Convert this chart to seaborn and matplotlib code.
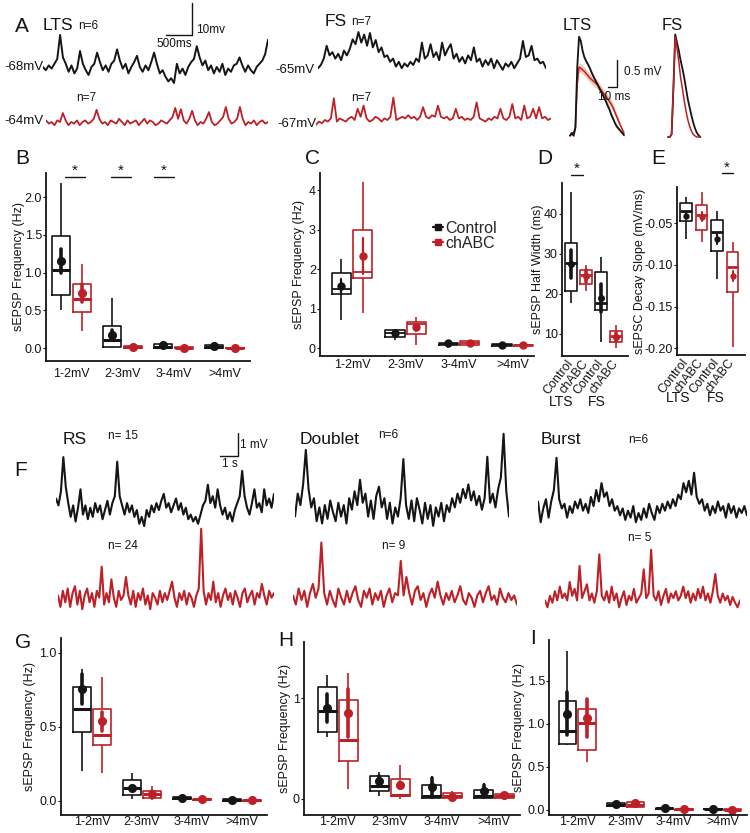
import numpy as np
import pandas as pd
import matplotlib.pyplot as plt
import seaborn as sns
from matplotlib.lines import Line2D
from matplotlib.ticker import FormatStrFormatter

# ---------------- values ----------------
bins = ["1-2mV", "2-3mV", "3-4mV", ">4mV"]
groups = ["Control", "chABC"]

# boxes are [min, q1, median, q3, max]; mean +/- se drawn on top
b_ctrl_box = [[0.51, 0.71, 1.03, 1.49, 2.19], [0.0, 0.01, 0.11, 0.29, 0.66],
              [0.0, 0.0, 0.01, 0.05, 0.07], [0.0, 0.0, 0.01, 0.04, 0.06]]
b_chabc_box = [[0.23, 0.48, 0.65, 0.85, 1.12], [0.0, 0.0, 0.015, 0.03, 0.06],
               [0.0, 0.0, 0.005, 0.01, 0.02], [0.0, 0.0, 0.0, 0.005, 0.02]]
b_ctrl_mean, b_ctrl_se = [1.16, 0.18, 0.04, 0.03], [0.16, 0.06, 0.02, 0.02]
b_chabc_mean, b_chabc_se = [0.73, 0.02, 0.005, 0.004], [0.12, 0.01, 0.003, 0.003]

c_ctrl_box = [[0.72, 1.37, 1.5, 1.9, 2.25], [0.22, 0.28, 0.38, 0.46, 0.5],
              [0.02, 0.1, 0.12, 0.14, 0.2], [0.02, 0.06, 0.09, 0.12, 0.15]]
c_chabc_box = [[0.9, 1.77, 1.92, 3.0, 4.2], [0.1, 0.37, 0.62, 0.67, 0.8],
               [0.07, 0.1, 0.15, 0.2, 0.22], [0.06, 0.07, 0.08, 0.09, 0.1]]
c_ctrl_mean, c_ctrl_se = [1.57, 0.4, 0.13, 0.1], [0.18, 0.05, 0.03, 0.02]
c_chabc_mean, c_chabc_se = [2.33, 0.53, 0.15, 0.08], [0.45, 0.1, 0.03, 0.01]

de_cats = ["LTS Control", "LTS chABC", "FS Control", "FS chABC"]
de_groups = ["Control", "chABC", "Control", "chABC"]
de_ticks = ["Control", "chABC", "Control", "chABC"]
d_box = [[17.7, 20.8, 27.7, 32.7, 45.6], [20.8, 22.5, 24.75, 26.0, 27.25],
         [8.1, 16.0, 17.7, 25.6, 29.3], [6.4, 8.1, 9.5, 10.8, 12.25]]
d_mean, d_se = [27.5, 24.5, 19.0, 9.3], [3.6, 1.5, 3.6, 1.0]
e_box = [[-0.069, -0.047, -0.035, -0.026, -0.019], [-0.073, -0.058, -0.040, -0.028, -0.013],
         [-0.117, -0.083, -0.060, -0.046, -0.035], [-0.199, -0.132, -0.103, -0.085, -0.072]]
e_mean, e_se = [-0.041, -0.042, -0.069, -0.113], [0.004, 0.005, 0.006, 0.006]

g_ctrl_box = [[0.20, 0.463, 0.624, 0.772, 0.888], [0.016, 0.038, 0.09, 0.143, 0.19],
              [0.005, 0.01, 0.02, 0.025, 0.03], [0.0, 0.002, 0.005, 0.01, 0.012]]
g_chabc_box = [[0.19, 0.378, 0.445, 0.62, 0.839], [0.007, 0.02, 0.05, 0.065, 0.10],
               [0.0, 0.005, 0.01, 0.013, 0.015], [0.0, 0.001, 0.003, 0.005, 0.008]]
g_ctrl_mean, g_ctrl_se = [0.754, 0.09, 0.02, 0.006], [0.10, 0.01, 0.005, 0.003]
g_chabc_mean, g_chabc_se = [0.537, 0.05, 0.01, 0.003], [0.065, 0.02, 0.003, 0.002]

h_ctrl_box = [[0.61, 0.663, 0.875, 1.11, 1.23], [0.026, 0.076, 0.125, 0.224, 0.27],
              [0.0, 0.01, 0.026, 0.135, 0.224], [0.0, 0.01, 0.026, 0.086, 0.16]]
h_chabc_box = [[0.099, 0.373, 0.587, 0.977, 1.25], [0.0, 0.026, 0.043, 0.198, 0.333],
               [0.0, 0.007, 0.026, 0.06, 0.076], [0.0, 0.007, 0.03, 0.05, 0.066]]
h_ctrl_mean, h_ctrl_se = [0.90, 0.18, 0.12, 0.083], [0.14, 0.05, 0.09, 0.05]
h_chabc_mean, h_chabc_se = [0.85, 0.14, 0.02, 0.04], [0.24, 0.03, 0.01, 0.01]

i_ctrl_box = [[0.76, 0.767, 0.922, 1.27, 1.853], [0.031, 0.039, 0.058, 0.078, 0.108],
              [0.01, 0.015, 0.02, 0.025, 0.03], [0.003, 0.006, 0.01, 0.013, 0.016]]
i_chabc_box = [[0.562, 0.698, 1.008, 1.17, 1.287], [0.031, 0.031, 0.06, 0.097, 0.116],
               [0.0, 0.002, 0.005, 0.008, 0.01], [0.0, 0.002, 0.004, 0.006, 0.008]]
i_ctrl_mean, i_ctrl_se = [1.116, 0.065, 0.02, 0.01], [0.25, 0.01, 0.004, 0.003]
i_chabc_mean, i_chabc_se = [1.066, 0.08, 0.005, 0.004], [0.22, 0.015, 0.002, 0.002]

# A: example recordings, mV relative to resting level
lts_ctrl_trace = [0, -1, 0.5, -0.5, 1, 2.5, 10, 3, 1, -1.5, 0.5, -2, -0.5, 5, 1, -1, -2.5, 0, 1,
                  4.5, 1.5, -1, 0.5, -1.5, 1, 2, 5.5, 2, -0.5, 1, -2, 0, 1.5, 3.5, 0, -1.5, 0.5,
                  -1, 1.5, 4.5, 1, -2, -1, -3, -4.5, -3.5, -5, 1, -2, -0.5, -2.5, 0, 1.5, 2.5,
                  6.5, 3, 0.5, 2, -1, 0.5, -2, 0, -1.5, 1, -2.5, -0.5, -1.5, 0.5, 1, 3, 0.5,
                  -1.5, 0.5, -1, -2, 0, 1, 2, 4, 8.5]
lts_chabc_trace = [0.5, -0.5, 0, -1, 0.5, 0, 2.8, 0.5, -1, 0, -0.5, 0.5, -1, 0, 0.5, -0.5, 0, 1,
                   3.8, 1, -0.5, 0, -1, 0.5, 0, -0.5, 1, 0, -1, 0.5, -0.5, 0, 0.5, -1, 0, 1,
                   -0.5, 0.5, 0, -1, -0.5, 0.5, 0, -0.5, 0.5, 1.5, 4.4, 1, 4, 0.5, -0.5, 1, 3.5,
                   0.5, -1, 0, -0.5, 1, 3.1, 0, -1, -0.5, 0.5, 1.5, 4.7, 1, -0.5, 0, 1, 4.7, 1,
                   -1, 0, -0.5, 0.5, -1, 0, 0.5, -0.5, 0]
fs_ctrl_trace = [-1, 0, 2, 6, 3, 4, 2, 3.5, 1.5, 4.5, 3, 5, 8, 6.5, 10.3, 7, 9.5, 6, 10, 5.5, 7.8,
                 4, 5.5, 2.5, 3, 1, 2, -0.5, 1, -1, 0.5, -0.5, 1, 0, 2, 1, 7, 2, 3, 6.5, 2.5, 4,
                 1.5, 7, 3, 5, 6.5, 2, 3.5, 1, 2.5, 0.5, 3, 1.5, 5.5, 1, 2, -0.5, 1.5, 0, 2, -1,
                 1.5, 0, -1.5, 0.5, -0.5, 1, -1, 0.5, 2, 7.5, 2.5, 3, 6, 1.5, 2, 0.5, 1, -1]
fs_chabc_trace = [-1.5, -0.5, -1, 0, -0.5, 0.5, 6.8, -0.5, 0.5, 0, -0.5, 0.5, 1, 0, 3.5, 1, 4.5,
                  0.5, -0.5, 0, 1, 0.5, -0.5, 0.5, 0, 1, 7, 0, 0.5, 1, 0.5, 1.5, 0.5, 1, 0, 1, 4,
                  1, 0.5, 1.5, 1, 4.5, 1, 0.5, 1, 0, 0.5, 3.5, 0.5, 1, 0, 0.5, 0, 1, 5.5, 0.5, 0,
                  -0.5, 0.5, 0, 1, 0.5, 3.5, 0.5, 0, 1, 5, 0.5, 1, 0, 4.5, 0.5, 1, 3.5, 0.5, 4,
                  0.5, 1, 0, 0.5]

# A right: averaged sEPSPs (mV) every 2 ms
lts_wave_t = np.arange(0, 61, 2)
lts_wave_ctrl = [-0.05, 0.0, -0.05, 0.1, 1.2, 1.78, 1.7, 1.52, 1.4, 1.33, 1.27, 1.2, 1.12, 1.05,
                 0.98, 0.92, 0.85, 0.78, 0.72, 0.65, 0.58, 0.5, 0.43, 0.33, 0.26, 0.18, 0.12,
                 0.08, 0.04, 0.0, -0.04]
lts_wave_ctrl_se = [0.02, 0.02, 0.02, 0.03, 0.05, 0.06, 0.05, 0.05, 0.04, 0.04, 0.04, 0.04, 0.04,
                    0.04, 0.04, 0.04, 0.04, 0.04, 0.04, 0.04, 0.04, 0.04, 0.04, 0.04, 0.04, 0.04,
                    0.04, 0.03, 0.03, 0.03, 0.03]
lts_wave_chabc = [-0.05, 0.0, 0.0, 0.1, 0.9, 1.22, 1.2, 1.17, 1.14, 1.1, 1.06, 1.02, 0.99, 0.96,
                  0.93, 0.9, 0.86, 0.81, 0.76, 0.72, 0.68, 0.63, 0.58, 0.53, 0.46, 0.38, 0.3,
                  0.22, 0.14, 0.07, 0.0]
lts_wave_chabc_se = [0.02, 0.02, 0.02, 0.03, 0.06, 0.08, 0.08, 0.08, 0.08, 0.08, 0.08, 0.08,
                     0.08, 0.08, 0.08, 0.08, 0.08, 0.08, 0.08, 0.08, 0.08, 0.08, 0.08, 0.08,
                     0.07, 0.07, 0.06, 0.06, 0.05, 0.04, 0.03]
fs_wave_t = np.arange(0, 37, 2)
fs_wave_ctrl = [0.0, 0.0, 0.05, 0.9, 1.9, 1.75, 1.6, 1.42, 1.27, 1.1, 0.9, 0.7, 0.55, 0.4, 0.27,
                0.16, 0.08, 0.03, 0.0]
fs_wave_chabc = [0.0, 0.0, 0.05, 0.9, 1.85, 1.65, 1.4, 1.1, 0.9, 0.68, 0.48, 0.32, 0.2, 0.11,
                 0.05, 0.02, 0.0, 0.0, 0.0]

# F: example recordings (mV)
rs_ctrl_trace = [0.5, 0.2, 0.8, 2.3, 1.0, 0.3, -0.3, 0.2, -0.5, 0.1, 0.9, -0.2, 0.2, -0.4, 0.1,
                 -0.3, 0.3, -0.1, 0.2, -0.4, 0.0, 0.4, -0.2, 0.3, 0.6, 2.1, 0.6, 0.2, -0.2, 0.3,
                 -0.1, 0.2, -0.3, 0.0, -0.6, -0.3, -0.7, 0.0, -0.3, 0.2, -0.1, 0.3, 0.0, 0.4,
                 0.7, 0.1, 0.3, -0.1, 0.2, 0.5, 0.0, 0.3, -0.2, 0.1, -0.4, -0.2, -0.5, -0.3,
                 -0.6, -0.2, 0.2, 0.4, 1.1, 0.3, 0.6, 0.1, 0.9, 0.2, -0.2, 0.1, -0.4, -0.1, -0.5,
                 0.0, 0.3, 0.6, 1.7, 0.6, 0.1, -0.2, 0.3, 0.9, 0.1, 0.3, -0.1, 0.9, 0.2, 0.5,
                 0.1, 0.7]
rs_chabc_trace = [0.2, -0.3, 0.4, -0.1, 0.5, -0.3, 0.3, 0.6, -0.2, 0.4, -0.4, 0.2, 0.5, -0.1,
                  0.3, -0.3, 0.4, 0.1, 1.45, -0.2, 0.3, -0.1, 0.9, 0.1, -0.3, 0.4, 0.0, 0.2, 1.0,
                  0.2, -0.2, 0.4, -0.3, 0.3, 0.0, 0.5, -0.2, 0.2, -0.4, 0.3, 0.1, -0.2, 0.4,
                  -0.1, 0.3, 0.0, 0.4, 0.8, 0.1, -0.3, 0.3, 0.0, 0.4, -0.2, 0.3, 0.1, -0.3, 0.2,
                  0.5, 3.1, 0.4, -0.2, 0.3, 0.0, 0.8, -0.1, 0.3, -0.3, 0.2, 0.5, 0.0, 0.3, -0.2,
                  0.4, 0.1, -0.3, 0.3, 0.5, -0.1, 0.2, 0.4, -0.2, 0.3, 0.1, 0.7, 0.2, -0.2, 0.4,
                  0.1, 0.3]
doublet_ctrl_trace = [-0.2, 0.8, 0.3, 1.2, 2.7, 1.0, 0.2, 0.6, -0.4, 0.2, -0.5, 0.3, -0.3, 0.5,
                      0.0, -0.4, 0.4, -0.2, 0.3, -0.5, 0.6, 0.1, 0.9, 0.3, 1.4, 0.4, 0.8, -0.2,
                      0.5, -0.3, 0.7, 1.1, 0.2, 0.6, -0.3, 0.4, -0.5, 0.2, -0.2, 0.6, 2.3, 0.3,
                      -0.3, 0.5, -0.4, 0.6, 0.1, -0.5, 0.4, -0.3, 0.3, -0.6, 0.2, -0.2, 0.4, -0.4,
                      0.3, 0.0, 0.6, 0.2, 0.8, 0.4, 1.0, 0.6, 1.2, 0.5, 0.9, 0.3, 0.7, 0.1, 0.6,
                      2.4, 0.4, 0.8, 0.2, 1.0, 1.5, 3.4, 0.9, -0.2]
doublet_chabc_trace = [0.2, -0.2, 0.5, 0.0, 0.4, -0.3, 0.3, 0.7, 0.1, 0.5, 2.5, 0.3, -0.2, 0.4,
                       0.0, -0.3, 0.5, 0.1, -0.2, 0.4, -0.1, 0.3, 0.6, 0.0, -0.3, 0.4, 0.1, 0.5,
                       -0.2, 0.3, 0.0, 0.4, -0.3, 0.2, 0.5, -0.1, 0.3, 0.2, 1.7, 0.2, 1.0, 0.3,
                       -0.2, 0.4, 0.6, 0.0, 0.3, -0.3, 0.2, 0.5, 0.1, 0.8, 0.2, -0.2, 0.3, 0.0,
                       0.4, -0.1, 0.2, 0.6, 0.0, -0.2, 0.3, 0.1, -0.3, 0.2, 0.4, -0.1, 0.3, 0.6,
                       0.0, 0.2, -0.2, 0.5, 0.1, -0.1, 0.3, 0.0, 0.2, -0.2]
burst_ctrl_trace = [0.5, -0.4, 0.2, 0.6, -0.2, 0.5, 1.0, 2.4, 0.6, 0.2, 0.4, -0.2, 0.3, 0.0, 0.5,
                    0.2, 0.6, 0.1, 0.4, 0.0, 0.7, 0.3, 1.0, 0.5, 1.3, 0.7, 0.9, 0.3, 0.6, 0.1,
                    0.3, -0.1, 0.2, -0.3, 0.1, -0.2, 0.3, -0.4, 0.0, -0.3, 0.2, -0.2, 0.4, 0.0,
                    -0.3, 0.3, 0.0, 0.4, 0.1, 0.5, 0.2, 0.6, 0.3, 0.8, 0.6, 1.3, 0.9, 1.4, 0.8,
                    1.75, 0.7, 0.4, 0.6, 0.1, 0.4, -0.1, 0.3, 0.0, 0.5, 0.1, 0.3, -0.2, 0.4, 0.0,
                    0.3, -0.2, 0.2, 0.0, 0.3, -0.1]
burst_chabc_trace = [0.2, -0.1, 0.4, 0.1, 0.6, 0.2, 0.8, 0.3, 0.5, 0.2, 1.0, 0.4, 0.7, 0.2, 1.7,
                     0.3, 0.6, 0.9, 0.2, 0.5, 0.1, 0.6, 2.2, 0.4, 0.2, 0.6, 0.1, 0.8, 0.2, 0.5,
                     -0.1, 0.3, 0.6, 0.0, 0.4, 0.2, 0.7, 0.1, 0.3, 0.5, 1.55, 0.3, 0.5, 2.4, 0.4,
                     0.2, 0.6, 0.0, 0.4, 0.7, 0.1, 0.5, 0.3, 0.6, 0.2, 0.4, 0.8, 0.3, 0.6, 0.1,
                     0.5, 0.2, 0.7, 0.3, 0.8, 0.2, 0.5, 0.1, 0.6, 1.35, 0.4, 0.1, 0.5, 0.2, 0.4,
                     0.0, 0.35, 0.1, -0.1, 0.2]

# ---------------- drawing ----------------
sns.set_style("white")
plt.rcParams["font.family"] = ["Liberation Sans", "DejaVu Sans"]
plt.rcParams["axes.unicode_minus"] = False

BLACK = "#151515"
RED = "#BD2127"
W, H = 750, 833
A_MV, A_S = 3.2, 52      # px per mV / per s in panel A traces
F_MV, F_S = 23, 18       # px per mV / per s in panel F traces
WV_MV, WV_MS = 54, 0.9   # averaged sEPSPs

fig = plt.figure(figsize=(W / 100, H / 100), dpi=100)


def rect(l, t, r, b):
    return [l / W, 1 - b / H, (r - l) / W, (b - t) / H]


def label(x, y, s, size, ha="left", color=BLACK, **kw):
    fig.text(x / W, 1 - y / H, s, fontsize=size, ha=ha, va="center", color=color, **kw)


ov = fig.add_axes([0, 0, 1, 1])
ov.set_xlim(0, W)
ov.set_ylim(H, 0)
ov.axis("off")


def trace(vals, color, l, r, t, b, base, px_per_mv, lw):
    ax = fig.add_axes(rect(l, t, r, b))
    sns.lineplot(x=np.arange(len(vals)), y=vals, color=color, lw=lw, ax=ax)
    ax.set_xlim(0, len(vals) - 1)
    ax.set_ylim((base - b) / px_per_mv, (base - t) / px_per_mv)
    ax.axis("off")


def frames(cats, cat_groups, boxes, means, ses):
    box_rows, mean_rows = [], []
    for c, g, bx, m, s in zip(cats, cat_groups, boxes, means, ses):
        box_rows += [(c, g, v) for v in bx]
        mean_rows += [(c, g, v) for v in (m - s, m, m + s)]
    cols = ["bin", "group", "value"]
    return pd.DataFrame(box_rows, columns=cols), pd.DataFrame(mean_rows, columns=cols)


def freq_frames(cb, rb, cm, cs, rm, rs):
    return frames(bins * 2, ["Control"] * 4 + ["chABC"] * 4, cb + rb, cm + rm, cs + rs)


def draw_boxes(ax, bdf, mdf, order, dodge, width, med_lw, err_lw, ms):
    sns.boxplot(data=bdf, x="bin", y="value", hue="group", order=order, hue_order=groups,
                palette=[BLACK, RED], fill=False, whis=(0, 100), width=width,
                gap=0.1 if dodge else 0, dodge=dodge, linewidth=1.2,
                medianprops={"linewidth": med_lw}, capprops={"linewidth": 0},
                legend=False, ax=ax)
    sns.pointplot(data=mdf, x="bin", y="value", hue="group", order=order, hue_order=groups,
                  palette=[BLACK, RED], dodge=0.4 if dodge else False, linestyle="none",
                  errorbar=("pi", 100), markers="o", markersize=ms,
                  err_kws={"linewidth": err_lw}, legend=False, ax=ax)


def style(ax, xlim, ylim, yticks, fmt, ylabel, label_x, xpad):
    ax.set_xlim(*xlim)
    ax.set_ylim(*ylim)
    ax.set_yticks(yticks)
    ax.yaxis.set_major_formatter(FormatStrFormatter(fmt))
    ax.set_xlabel("")
    ax.set_ylabel(ylabel, fontsize=9, color=BLACK)
    ax.yaxis.set_label_coords(label_x, 0.5)
    ax.set_facecolor("none")
    sns.despine(ax=ax)
    for side in ("left", "bottom"):
        ax.spines[side].set_color(BLACK)
        ax.spines[side].set_linewidth(1.3)
    ax.tick_params(axis="y", left=True, length=2, width=0.8, labelsize=9, pad=1,
                   colors=BLACK)
    ax.tick_params(axis="x", bottom=False, length=0, labelsize=9, pad=xpad, colors=BLACK)


# ---- A: traces
trace(lts_ctrl_trace, BLACK, 43, 268, 25, 90, 67, A_MV, 1.4)
trace(lts_chabc_trace, RED, 46, 268, 100, 135, 122, A_MV, 1.3)
trace(fs_ctrl_trace, BLACK, 318, 546, 25, 80, 65, A_MV, 1.4)
trace(fs_chabc_trace, RED, 316, 551, 92, 135, 120, A_MV, 1.3)
ov.plot([192, 192, 192 - 0.5 * A_S], [35 - 10 * A_MV, 35, 35], color=BLACK, lw=1)

label(22, 27, "A", 15, ha="center")
label(43, 25, "LTS", 12.5)
label(88, 26, "n=6", 8.5, ha="center")
label(196, 30, "10mv", 8.5)
label(174, 44, "500ms", 8.5, ha="center")
label(4, 67, "-68mV", 9.5)
label(86, 98, "n=7", 8.5, ha="center")
label(4, 121, "-64mV", 9.5)
label(325, 21, "FS", 12.5)
label(361, 22, "n=7", 8.5, ha="center")
label(275, 70, "-65mV", 9.5)
label(361, 98, "n=7", 8.5, ha="center")
label(277, 124, "-67mV", 9.5)

# ---- A right: averaged sEPSPs
wa = fig.add_axes(rect(565, 30, 632, 140))
for m, s, col, band, lw in [(lts_wave_chabc, lts_wave_chabc_se, RED, "#F0A77E", 1.1),
                            (lts_wave_ctrl, lts_wave_ctrl_se, BLACK, "#9A9A9A", 1.3)]:
    m, s = np.array(m), np.array(s)
    wa.fill_between(lts_wave_t, m - s, m + s, color=band, alpha=0.6, lw=0)
    sns.lineplot(x=lts_wave_t, y=m, color=col, lw=lw, ax=wa)
wa.set_xlim((565 - 570) / WV_MS, (632 - 570) / WV_MS)
wa.set_ylim((133 - 140) / WV_MV, (133 - 30) / WV_MV)
wa.axis("off")

wf = fig.add_axes(rect(662, 30, 705, 140))
sns.lineplot(x=fs_wave_t, y=fs_wave_ctrl, color=BLACK, lw=1.3, ax=wf)
sns.lineplot(x=fs_wave_t, y=fs_wave_chabc, color=RED, lw=1.1, ax=wf)
wf.set_xlim((662 - 668) / WV_MS, (705 - 668) / WV_MS)
wf.set_ylim((137 - 140) / WV_MV, (137 - 30) / WV_MV)
wf.axis("off")

ov.plot([617, 617, 617 - 10 * WV_MS], [87 - 0.5 * WV_MV, 87, 87], color=BLACK, lw=1)
label(577, 25, "LTS", 12, ha="center")
label(672, 25, "FS", 12, ha="center")
label(624, 72, "0.5 mV", 8.5)
label(614, 97, "10 ms", 8.5, ha="center")

# ---- B
axb = fig.add_axes(rect(46, 173, 250, 361))
bdf, mdf = freq_frames(b_ctrl_box, b_chabc_box, b_ctrl_mean, b_ctrl_se, b_chabc_mean, b_chabc_se)
draw_boxes(axb, bdf, mdf, bins, True, 0.8, 2.2, 2.6, 4.5)
style(axb, (-0.5, 3.5), (-0.17, 2.32), [0, 0.5, 1.0, 1.5, 2.0], "%.1f",
      "sEPSP Frequency (Hz)", -0.105, 5)
label(22, 158, "B", 15, ha="center")
for xc in (75, 121, 164):
    label(xc, 171, "*", 11, ha="center")
    ov.plot([xc - 10, xc + 10], [177, 177], color=BLACK, lw=1)

# ---- C
axc = fig.add_axes(rect(320, 173, 534, 356))
bdf, mdf = freq_frames(c_ctrl_box, c_chabc_box, c_ctrl_mean, c_ctrl_se, c_chabc_mean, c_chabc_se)
draw_boxes(axc, bdf, mdf, bins, True, 0.8, 1.3, 1.6, 4)
style(axc, (-0.6, 3.4), (-0.19, 4.43), [0, 1, 2, 3, 4], "%d", "sEPSP Frequency (Hz)", -0.07, 2.5)
label(313, 158, "C", 15, ha="center")
handles = [Line2D([], [], color=c, marker="s", markersize=5, lw=1.6) for c in (BLACK, RED)]
fig.legend(handles, groups, loc="upper left", bbox_to_anchor=(433 / W, 1 - 221 / H),
           frameon=False, fontsize=11.5, handlelength=0.6, handletextpad=0.15,
           labelspacing=0.0, borderpad=0, borderaxespad=0)

# ---- D
axd = fig.add_axes(rect(562, 183, 628, 356))
bdf, mdf = frames(de_cats, de_groups, d_box, d_mean, d_se)
draw_boxes(axd, bdf, mdf, de_cats, False, 0.75, 2.0, 2.6, 3)
style(axd, (-0.6, 3.8), (4.5, 47.75), [10, 20, 30, 40], "%d", "sEPSP Half Width (ms)",
      -0.28, 4)
axd.set_xticks(range(4))
axd.set_xticklabels(de_ticks, rotation=52, ha="right", va="center", rotation_mode="anchor",
                    fontsize=9)
label(545, 158, "D", 15, ha="center")
label(577, 169, "*", 11, ha="center")
ov.plot([571, 583], [175, 175], color=BLACK, lw=1)
label(561, 402, "LTS", 10, ha="center")
label(597, 402, "FS", 10, ha="center")

# ---- E
axe = fig.add_axes(rect(677, 187, 745, 355))
bdf, mdf = frames(de_cats, de_groups, e_box, e_mean, e_se)
draw_boxes(axe, bdf, mdf, de_cats, False, 0.75, 2.0, 1.5, 2.5)
style(axe, (-0.58, 3.8), (-0.208, -0.0065), [-0.20, -0.15, -0.10, -0.05], "%.2f",
      "sEPSC Decay Slope (mV/ms)", -0.46, 4)
axe.set_xticks(range(4))
axe.set_xticklabels(de_ticks, rotation=52, ha="right", va="center", rotation_mode="anchor",
                    fontsize=9)
label(658, 158, "E", 15, ha="center")
label(727, 168, "*", 11, ha="center")
ov.plot([722, 733], [173, 173], color=BLACK, lw=1)
label(678, 398, "LTS", 10, ha="center")
label(716, 398, "FS", 10, ha="center")

# ---- F: traces
trace(rs_ctrl_trace, BLACK, 56, 274, 450, 535, 510, F_MV, 1.5)
trace(rs_chabc_trace, RED, 58, 274, 522, 615, 600, F_MV, 1.5)
trace(doublet_ctrl_trace, BLACK, 295, 509, 428, 532, 512, F_MV, 1.5)
trace(doublet_chabc_trace, RED, 293, 517, 535, 612, 600, F_MV, 1.5)
trace(burst_ctrl_trace, BLACK, 538, 747, 450, 528, 513, F_MV, 1.5)
trace(burst_chabc_trace, RED, 545, 740, 545, 612, 605, F_MV, 1.5)
ov.plot([238, 238, 238 - F_S], [456 - F_MV, 456, 456], color=BLACK, lw=1)

label(21, 470, "F", 15, ha="center")
label(63, 440, "RS", 12.5)
label(108, 436, "n= 15", 8.5)
label(240, 445, "1 mV", 8.5)
label(230, 464, "1 s", 8.5, ha="center")
label(300, 440, "Doublet", 12.5)
label(378, 435, "n=6", 8.5)
label(541, 440, "Burst", 12.5)
label(628, 440, "n=6", 8.5)
label(108, 546, "n= 24", 8.5)
label(382, 546, "n= 9", 8.5)
label(628, 538, "n= 5", 8.5)

# ---- G, H, I
axg = fig.add_axes(rect(61, 638, 267, 815))
bdf, mdf = freq_frames(g_ctrl_box, g_chabc_box, g_ctrl_mean, g_ctrl_se, g_chabc_mean, g_chabc_se)
draw_boxes(axg, bdf, mdf, bins, True, 0.8, 2.2, 2.6, 4.5)
style(axg, (-0.62, 3.5), (-0.095, 1.10), [0, 0.5, 1.0], "%.1f", "sEPSP Frequency (Hz)",
      -0.12, 1)
label(23, 643, "G", 15, ha="center")

axh = fig.add_axes(rect(304, 642, 520, 815))
bdf, mdf = freq_frames(h_ctrl_box, h_chabc_box, h_ctrl_mean, h_ctrl_se, h_chabc_mean, h_chabc_se)
draw_boxes(axh, bdf, mdf, bins, True, 0.8, 2.2, 2.6, 4.5)
style(axh, (-0.65, 3.5), (-0.16, 1.557), [0, 1], "%d", "sEPSP Frequency (Hz)", -0.06, 1)
label(286, 640, "H", 15, ha="center")

axi = fig.add_axes(rect(549, 640, 747, 815))
bdf, mdf = freq_frames(i_ctrl_box, i_chabc_box, i_ctrl_mean, i_ctrl_se, i_chabc_mean, i_chabc_se)
draw_boxes(axi, bdf, mdf, bins, True, 0.8, 2.2, 2.6, 4.5)
style(axi, (-0.58, 3.5), (-0.06, 1.977), [0, 0.5, 1.0, 1.5], "%.1f",
      "sEPSP Frequency (Hz)", -0.12, 1)
label(533, 638, "I", 15, ha="center")

fig.savefig("out.png", dpi=100)
